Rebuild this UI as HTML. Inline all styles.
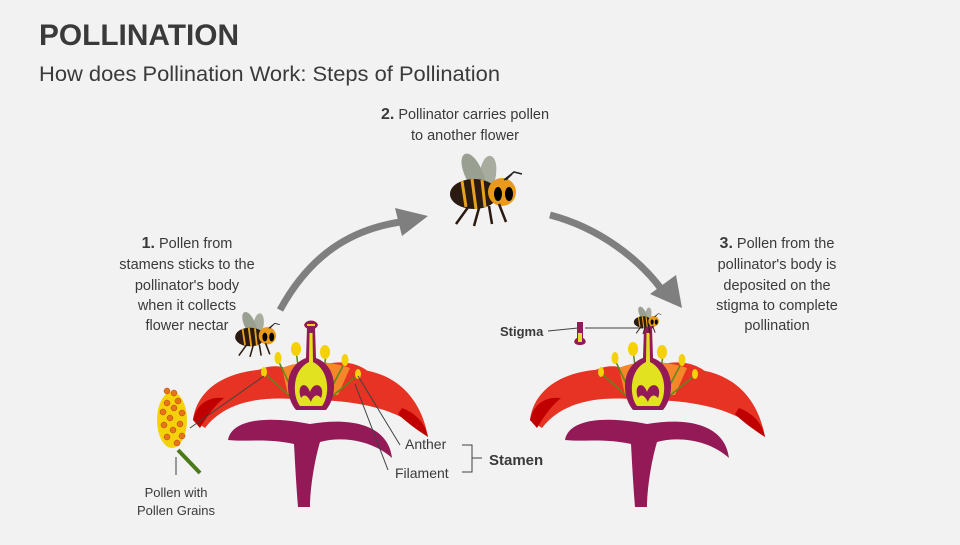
<!DOCTYPE html>
<html><head><style>
body{margin:0;width:960px;height:540px;background:#f2f2f2;overflow:hidden;font-family:"Liberation Sans",sans-serif;}
</style></head><body>
<svg width="960" height="540" viewBox="0 0 960 540" xmlns="http://www.w3.org/2000/svg" font-family="Liberation Sans, sans-serif">
<rect width="960" height="540" fill="#f2f2f2"/>
<text x="39" y="45" font-size="30" font-weight="bold" fill="#3a3a3a" textLength="200" lengthAdjust="spacingAndGlyphs">POLLINATION</text>
<text x="39" y="81" font-size="21" fill="#3a3a3a" textLength="461" lengthAdjust="spacingAndGlyphs">How does Pollination Work: Steps of Pollination</text>

<defs>
<g id="flower">
  <!-- red petals -->
  <path d="M193,420 C198,380 245,362 300,372 L305,400 C260,395 225,402 205,428 Z" fill="#e63324"/>
  <path d="M193,420 C196,405 208,396 224,398 C212,408 205,420 200,428 Z" fill="#c00000"/>
  <path d="M320,372 C375,360 418,382 428,437 C410,417 378,402 318,400 Z" fill="#e63324"/>
  <path d="M402,408 C418,414 426,426 428,437 C414,428 404,420 398,414 Z" fill="#c00000"/>
  <path d="M250,375 C270,360 300,362 312,398 L262,398 C250,392 245,382 250,375 Z" fill="#e63324"/>
  <path d="M312,370 C335,356 368,362 376,382 L330,400 Z" fill="#e63324"/>
  <path d="M282,368 C300,360 328,360 350,368 L338,395 L288,395 Z" fill="#f4872a"/>
  <!-- purple lower petals -->
  <path d="M228,440 C232,418 270,416 310,424 C352,417 388,425 392,458 C372,440 342,436 320,442 C314,462 310,490 310,507 L298,507 C296,482 295,462 294,444 C268,438 245,442 228,440 Z" fill="#931a56"/>
  <!-- stamens -->
  <g stroke="#5a8a1a" stroke-width="1.5" fill="none">
    <path d="M264,373 L292,398"/><path d="M278,360 L296,398"/><path d="M296,350 L302,398"/>
    <path d="M326,355 L320,398"/><path d="M345,362 L326,398"/><path d="M358,375 L330,398"/>
  </g>
  <g fill="#f5d10a">
    <ellipse cx="264" cy="372" rx="3" ry="5"/><ellipse cx="278" cy="358" rx="3.5" ry="6"/>
    <ellipse cx="296" cy="349" rx="5" ry="7"/><ellipse cx="325" cy="352" rx="5" ry="7"/>
    <ellipse cx="345" cy="360" rx="3.5" ry="6"/><ellipse cx="358" cy="374" rx="3" ry="5"/>
  </g>
  <!-- pistil -->
  <path d="M307,328 L315,328 L316,358 C338,366 338,396 326,410 L296,410 C284,396 284,366 306,358 Z" fill="#931a56"/>
  <path d="M309.5,333 L312.5,333 L313,362 C330,370 330,396 322,406 L300,406 C292,396 292,370 309,362 Z" fill="#e2e220"/>
  <path d="M301,398 C296,385 306,380 310,392 C314,380 326,385 321,398 C316,392 312,398 311,402 C309,398 305,392 301,398 Z" fill="#931a56"/>
  <path d="M304,325 C306,319 316,319 318,325 C316,331 306,331 304,325 Z" fill="#931a56"/>
  <path d="M307,325 L315,325" stroke="#f5d10a" stroke-width="2"/>
</g>
<g id="bee">
  <path d="M-5,-10 C-25,-45 0,-55 12,-12 Z" fill="#8a9080" opacity="0.85"/>
  <path d="M5,-10 C5,-50 30,-45 20,-10 Z" fill="#9aa090" opacity="0.85"/>
  <ellipse cx="0" cy="0" rx="24" ry="15" fill="#2a1a10" />
  <path d="M-12,-13 L-8,13 M-2,-15 L2,15 M8,-14 L11,13" stroke="#e8a020" stroke-width="3"/>
  <circle cx="28" cy="-2" r="14" fill="#e89a18"/>
  <ellipse cx="24" cy="0" rx="4" ry="7" fill="#000"/><ellipse cx="35" cy="0" rx="4" ry="7" fill="#000"/>
  <path d="M30,-14 L40,-22 L48,-20 M32,-14 L38,-20" stroke="#222" stroke-width="1.5" fill="none"/>
  <path d="M-5,12 L-18,30 M5,14 L0,32 M15,12 L18,30 M25,10 L32,28" stroke="#2a1a10" stroke-width="2.5"/>
</g>
</defs>

<use href="#flower"/>
<use href="#flower" transform="translate(337,0)"/>

<!-- pollen -->
<path d="M178,450 L200,473" stroke="#4a7a1a" stroke-width="4"/>
<ellipse cx="172" cy="420" rx="15" ry="28" fill="#f5d10a"/>
<g fill="#e8741a" stroke="#b04010" stroke-width="0.5">
<circle cx="167" cy="391" r="3"/><circle cx="174" cy="393" r="3"/><circle cx="178" cy="401" r="3"/>
<circle cx="167" cy="403" r="3"/><circle cx="174" cy="408" r="3"/><circle cx="182" cy="413" r="3"/>
<circle cx="163" cy="412" r="3"/><circle cx="170" cy="418" r="3"/><circle cx="180" cy="424" r="3"/>
<circle cx="164" cy="425" r="3"/><circle cx="173" cy="430" r="3"/><circle cx="182" cy="436" r="3"/>
<circle cx="167" cy="437" r="3"/><circle cx="177" cy="443" r="3"/>
</g>
<g stroke="#404040" stroke-width="1" fill="none">
<path d="M190,428 L264,376"/>
<path d="M176,457 L176,475"/>
<path d="M358,376 L400,445"/><path d="M355,384 L388,470"/>
<path d="M462,445 L472,445 L472,472 L462,472 M472,458 L482,458"/>
<path d="M548,331 L578,328"/><path d="M585,328 L643,328"/>
</g>
<text x="176" y="497" font-size="13" fill="#3a3a3a" text-anchor="middle">Pollen with</text>
<text x="176" y="515" font-size="13" fill="#3a3a3a" text-anchor="middle">Pollen Grains</text>
<text x="405" y="449" font-size="14" fill="#3a3a3a">Anther</text>
<text x="395" y="478" font-size="14" fill="#3a3a3a">Filament</text>
<text x="489" y="465" font-size="15" font-weight="bold" fill="#3a3a3a">Stamen</text>
<text x="500" y="336" font-size="13" font-weight="bold" fill="#3a3a3a">Stigma</text>
<path d="M577,322 L583,322 L583,338 C587,340 587,345 580,345 C573,345 573,340 577,338 Z" fill="#931a56"/>
<path d="M578,333 L582,333 L582,342 L578,342Z" fill="#e2e220"/>

<!-- arrows -->
<path d="M280,310 C310,255 350,230 400,222" stroke="#7f7f7f" stroke-width="7" fill="none"/>
<path d="M395,208 L428,216 L402,236 Z" fill="#7f7f7f"/>
<path d="M550,215 C600,228 640,260 662,290" stroke="#7f7f7f" stroke-width="7" fill="none"/>
<path d="M650,294 L682,308 L676,275 Z" fill="#7f7f7f"/>

<use href="#bee" transform="translate(474,194)"/>
<use href="#bee" transform="translate(250,337) scale(0.62)"/>
<use href="#bee" transform="translate(643,322) scale(0.38)"/>

<g font-size="14.5" fill="#3a3a3a" text-anchor="middle">
<text x="187" y="248"><tspan font-weight="bold" font-size="16">1.</tspan> Pollen from</text>
<text x="187" y="269">stamens sticks to the</text>
<text x="187" y="290">pollinator's body</text>
<text x="187" y="310">when it collects</text>
<text x="187" y="330">flower nectar</text>
<text x="465" y="119"><tspan font-weight="bold" font-size="16">2.</tspan> Pollinator carries pollen</text>
<text x="465" y="140">to another flower</text>
<text x="777" y="248"><tspan font-weight="bold" font-size="16">3.</tspan> Pollen from the</text>
<text x="777" y="269">pollinator's body is</text>
<text x="777" y="290">deposited on the</text>
<text x="777" y="310">stigma to complete</text>
<text x="777" y="330">pollination</text>
</g>
</svg>
</body></html>
